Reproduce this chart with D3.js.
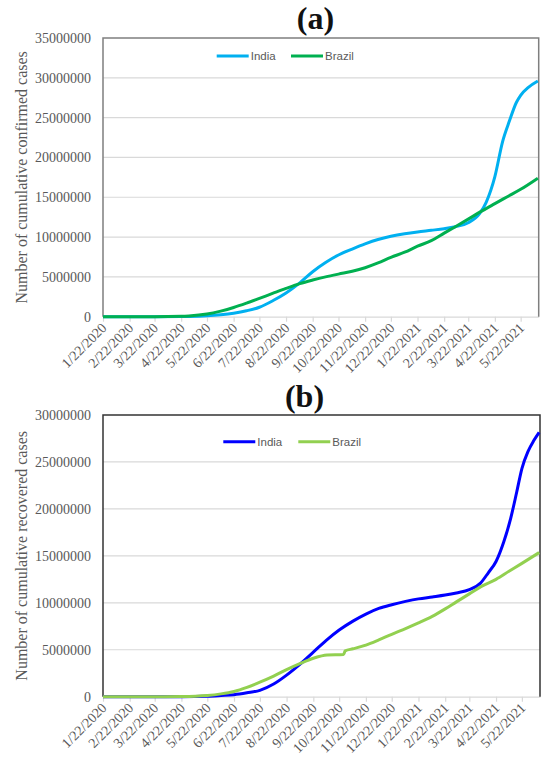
<!DOCTYPE html>
<html>
<head>
<meta charset="utf-8">
<script src="https://cdn.jsdelivr.net/npm/d3@7"></script>
<style>
  html, body { margin: 0; padding: 0; background: #fff; }
  svg { display: block; }
</style>
</head>
<body>
<svg id="chart" width="549" height="759"></svg>
<script>
// Monthly tick labels shared by both panels
const tickLabels = ["1/22/2020","2/22/2020","3/22/2020","4/22/2020","5/22/2020","6/22/2020",
  "7/22/2020","8/22/2020","9/22/2020","10/22/2020","11/22/2020","12/22/2020",
  "1/22/2021","2/22/2021","3/22/2021","4/22/2021","5/22/2021"];

// (a) cumulative confirmed cases
const confirmedIndiaDates = ["1/22/2020","3/22/2020","4/22/2020","5/1/2020","5/22/2020","6/7/2020","6/22/2020",
  "7/7/2020","7/22/2020","8/7/2020","8/22/2020","9/7/2020","9/22/2020","10/7/2020","10/22/2020",
  "11/7/2020","11/22/2020","12/7/2020","12/22/2020","1/7/2021","1/22/2021","2/7/2021","2/22/2021",
  "3/7/2021","3/22/2021","4/4/2021","4/12/2021","4/22/2021","5/1/2021","5/9/2021","5/17/2021",
  "5/22/2021","5/31/2021","6/11/2021"];
const confirmedIndia = [0, 400, 21000, 37000, 120000, 250000, 440000,
  740000, 1190000, 2030000, 2980000, 4250000, 5650000, 6800000, 7750000,
  8500000, 9150000, 9700000, 10100000, 10420000, 10650000, 10850000, 11050000,
  11300000, 11800000, 12900000, 14400000, 17600000, 22000000, 24600000, 26900000,
  27800000, 28800000, 29600000];

const confirmedBrazilDates = ["1/22/2020","3/22/2020","4/22/2020","5/1/2020","5/22/2020","6/7/2020","6/22/2020",
  "7/7/2020","7/22/2020","8/7/2020","8/22/2020","9/7/2020","9/22/2020","10/7/2020","10/22/2020",
  "11/7/2020","11/22/2020","12/7/2020","12/22/2020","1/7/2021","1/22/2021","2/7/2021","2/22/2021",
  "3/7/2021","3/22/2021","4/4/2021","4/22/2021","5/7/2021","5/22/2021","6/11/2021"];
const confirmedBrazil = [0, 1500, 45000, 90000, 330000, 700000, 1150000,
  1700000, 2300000, 2950000, 3550000, 4150000, 4600000, 5000000, 5350000,
  5700000, 6150000, 6750000, 7450000, 8100000, 8850000, 9550000, 10500000,
  11300000, 12250000, 13100000, 14200000, 15100000, 16000000, 17400000];

// (b) cumulative recovered cases
const recoveredIndiaDates = ["1/22/2020","3/22/2020","4/22/2020","5/22/2020","6/7/2020","6/22/2020",
  "7/7/2020","7/22/2020","8/7/2020","8/22/2020","9/7/2020","9/22/2020","10/7/2020","10/22/2020",
  "11/7/2020","11/22/2020","12/7/2020","12/22/2020","1/7/2021","1/22/2021","2/7/2021","2/22/2021",
  "3/7/2021","3/22/2021","4/4/2021","4/13/2021","4/22/2021","5/1/2021","5/9/2021","5/16/2021",
  "5/22/2021","5/29/2021","6/5/2021","6/11/2021"];
const recoveredIndia = [0, 20, 4000, 50000, 130000, 220000,
  420000, 680000, 1350000, 2300000, 3500000, 4750000, 6000000, 7100000,
  8050000, 8800000, 9400000, 9800000, 10150000, 10420000, 10620000, 10820000,
  11050000, 11400000, 12100000, 13200000, 14400000, 16500000, 19000000, 21800000,
  24300000, 26100000, 27300000, 28150000];

const recoveredBrazilDates = ["1/22/2020","3/22/2020","4/22/2020","5/22/2020","6/7/2020","6/22/2020",
  "7/7/2020","7/22/2020","8/7/2020","8/22/2020","9/7/2020","9/22/2020","10/8/2020","10/27/2020",
  "10/29/2020","11/7/2020","11/22/2020","12/7/2020","12/22/2020","1/7/2021","1/22/2021","2/7/2021",
  "2/22/2021","3/7/2021","3/22/2021","4/5/2021","4/22/2021","5/7/2021","5/22/2021","6/11/2021"];
const recoveredBrazil = [0, 0, 20000, 130000, 300000, 560000,
  1000000, 1550000, 2200000, 2880000, 3550000, 4100000, 4450000, 4500000,
  4880000, 5100000, 5500000, 6050000, 6650000, 7250000, 7850000, 8550000,
  9350000, 10100000, 10950000, 11750000, 12500000, 13350000, 14200000, 15350000];

const parse = d3.timeParse("%m/%d/%Y");
const svg = d3.select("#chart");
const serif = "'Liberation Serif','Times New Roman',serif";
const sans = "'Liberation Sans',Arial,sans-serif";
const grey = "#595959";

const xDomain = [parse("1/22/2020"), parse("6/12/2021")];

function panel(cfg) {
  const { top, bottom, left, right } = cfg;
  const x = d3.scaleTime().domain(xDomain).range([left, right]);
  const y = d3.scaleLinear().domain([0, cfg.yMax]).range([bottom, top]);
  const g = svg.append("g");

  // horizontal gridlines
  g.append("g").selectAll("line")
    .data(y.ticks(cfg.yMax / 5000000).filter(v => v > 0 && v < cfg.yMax))
    .join("line")
    .attr("x1", left).attr("x2", right)
    .attr("y1", d => y(d)).attr("y2", d => y(d))
    .attr("stroke", "#d9d9d9").attr("stroke-width", 1.2);

  // y axis labels
  const yAxis = d3.axisLeft(y).ticks(cfg.yMax / 5000000).tickFormat(d3.format("d")).tickSize(0).tickPadding(12);
  const ya = g.append("g").attr("transform", `translate(${left},0)`).call(yAxis);
  ya.select(".domain").remove();
  ya.selectAll("text").attr("font-family", serif).attr("font-size", 14).attr("fill", grey);

  // x axis with rotated date labels
  const tickDates = tickLabels.map(parse);
  const xAxis = d3.axisBottom(x).tickValues(tickDates).tickFormat(d3.timeFormat("%-m/%-d/%Y")).tickSize(5).tickSizeOuter(0);
  const xa = g.append("g").attr("transform", `translate(0,${bottom})`).call(xAxis);
  xa.select(".domain").attr("stroke", "#d9d9d9").attr("stroke-width", 1.2);
  xa.selectAll(".tick line").attr("stroke", "#d9d9d9").attr("stroke-width", 1.2);
  xa.selectAll("text")
    .attr("font-family", serif).attr("font-size", 14).attr("fill", grey)
    .attr("text-anchor", "end")
    .attr("dy", null).attr("y", 0)
    .attr("transform", "translate(4,12) rotate(-45)");

  // frame: left, top, right
  g.append("path")
    .attr("d", `M${left},${bottom}V${top}H${right}V${bottom}`)
    .attr("fill", "none").attr("stroke", cfg.frame).attr("stroke-width", 1.5);

  // series
  const line = d3.line().x(d => x(d[0])).y(d => y(d[1])).curve(d3.curveMonotoneX);
  cfg.series.forEach(s => {
    const pts = s.dates.map((d, i) => [parse(d), s.values[i]]);
    g.append("path").datum(pts)
      .attr("d", line)
      .attr("fill", "none").attr("stroke", s.color).attr("stroke-width", 3)
      .attr("stroke-linejoin", "round");
  });

  // legend
  const leg = g.append("g").attr("transform", `translate(${cfg.legendX},${cfg.legendY})`);
  cfg.series.forEach((s, i) => {
    const lx = i * cfg.legendGap;
    leg.append("line").attr("x1", lx).attr("x2", lx + 32).attr("y1", 0).attr("y2", 0)
      .attr("stroke", s.color).attr("stroke-width", 3);
    leg.append("text").attr("x", lx + 34).attr("y", 4)
      .attr("font-family", sans).attr("font-size", 11.5).attr("fill", grey).text(s.name);
  });

  // y axis title
  svg.append("text")
    .attr("transform", `translate(27,${(top + bottom) / 2}) rotate(-90)`)
    .attr("text-anchor", "middle")
    .attr("font-family", serif).attr("font-size", 16).attr("fill", grey)
    .text(cfg.yTitle);

  // panel letter
  svg.append("text")
    .attr("x", cfg.titleX).attr("y", cfg.titleY)
    .attr("text-anchor", "middle")
    .attr("font-family", serif).attr("font-size", 32).attr("font-weight", "bold").attr("fill", "#111")
    .text(cfg.title);
}

panel({
  top: 38, bottom: 316.7, left: 103, right: 538.7, yMax: 35000000,
  frame: "#7f7f7f",
  yTitle: "Number of cumulative confirmed cases",
  title: "(a)", titleX: 315.5, titleY: 29,
  legendX: 216.7, legendY: 56, legendGap: 74.3,
  series: [
    { name: "India", color: "#00b0f0", dates: confirmedIndiaDates, values: confirmedIndia },
    { name: "Brazil", color: "#00b050", dates: confirmedBrazilDates, values: confirmedBrazil }
  ]
});

panel({
  top: 415, bottom: 696.7, left: 103, right: 540, yMax: 30000000,
  frame: "#333",
  yTitle: "Number of cumulative recovered cases",
  title: "(b)", titleX: 304.5, titleY: 407,
  legendX: 223.3, legendY: 441.7, legendGap: 75,
  series: [
    { name: "India", color: "#0000ff", dates: recoveredIndiaDates, values: recoveredIndia },
    { name: "Brazil", color: "#92d050", dates: recoveredBrazilDates, values: recoveredBrazil }
  ]
});
</script>
</body>
</html>
